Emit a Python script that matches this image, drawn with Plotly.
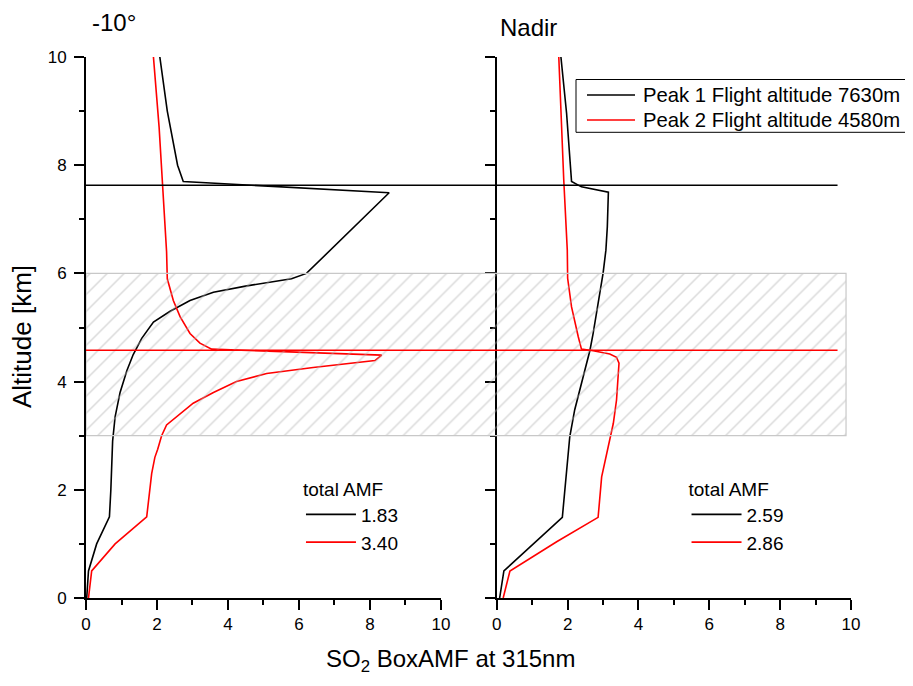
import plotly.graph_objects as go

# ---------------- data ----------------
# -10 deg viewing direction, Peak 1 (black)
alt_m10_p1 = [0.0, 0.5, 1.0, 1.5, 2.0, 2.9, 3.35, 3.8, 4.2, 4.5, 4.8, 5.1, 5.3, 5.5,
              5.65, 5.77, 5.9, 6.0, 7.49, 7.7, 8.0, 9.0, 10.0]
amf_m10_p1 = [0.02, 0.07, 0.30, 0.66, 0.70, 0.75, 0.82, 0.96, 1.15, 1.33, 1.57, 1.90,
              2.37, 2.93, 3.59, 4.53, 5.79, 6.21, 8.54, 2.74, 2.58, 2.29, 2.08]
# -10 deg viewing direction, Peak 2 (red)
alt_m10_p2 = [0.0, 0.5, 1.0, 1.5, 2.3, 2.6, 2.75, 3.0, 3.2, 3.35, 3.6, 3.8, 4.0, 4.15,
              4.26, 4.39, 4.49, 4.60, 4.71, 4.89, 5.2, 5.5, 5.9, 6.4, 7.67, 8.7, 10.0]
amf_m10_p2 = [0.07, 0.16, 0.82, 1.71, 1.85, 1.94, 2.02, 2.13, 2.27, 2.55, 3.02, 3.59,
              4.24, 5.09, 6.40, 8.14, 8.33, 3.54, 3.21, 2.93, 2.65, 2.46, 2.29, 2.27,
              2.16, 2.06, 1.90]
# Nadir, Peak 1 (black)
alt_nad_p1 = [0.0, 0.5, 1.49, 2.3, 2.98, 3.48, 4.09, 4.58, 4.89, 5.45, 6.0, 6.43, 6.86,
              7.5, 7.6, 7.7, 8.96, 10.0]
amf_nad_p1 = [0.08, 0.20, 1.85, 1.97, 2.06, 2.20, 2.44, 2.63, 2.72, 2.86, 3.00, 3.08,
              3.12, 3.15, 2.39, 2.11, 1.97, 1.81]
# Nadir, Peak 2 (red)
alt_nad_p2 = [0.0, 0.5, 1.04, 1.49, 2.24, 2.92, 3.23, 3.66, 4.34, 4.45, 4.51, 4.57, 4.60,
              4.83, 5.38, 5.91, 6.43, 7.73, 10.0]
amf_nad_p2 = [0.18, 0.37, 1.69, 2.86, 2.96, 3.19, 3.29, 3.38, 3.45, 3.38, 3.19, 2.72,
              2.39, 2.30, 2.11, 2.00, 1.99, 1.89, 1.75]

flight_alt = [7.63, 4.58]
flight_names = ["Peak 1 Flight altitude 7630m", "Peak 2 Flight altitude 4580m"]
total_amf_m10 = ["1.83", "3.40"]
total_amf_nadir = ["2.59", "2.86"]
plume_layer = [3.0, 6.0]          # hatched altitude band (km)
plume_right_end = 9.86            # on the Nadir BoxAMF scale
flight_line_right_end = 9.62      # on the Nadir BoxAMF scale

colors = ["#000000", "#ff0000"]
FONT = "Liberation Sans, Arial, sans-serif"

# ---------------- layout geometry ----------------
dom_left = [0.0, 0.464]
dom_right = [0.537, 1.0]
x3_start = -10.0 * dom_right[0] / (dom_right[1] - dom_right[0])
PLOT_W, PLOT_H = 765, 541          # plot-area size in px (for paper fractions)


def px_x(dx):      # horizontal px offset from plot-area left -> paper fraction
    return dx / PLOT_W


def px_y(dy):      # vertical px offset below plot-area top -> paper fraction
    return 1 - dy / PLOT_H


fig = go.Figure()

# hatched band spanning both panels (overlay axis x3 on the right-panel scale)
fig.add_trace(go.Scatter(
    x=[x3_start, plume_right_end, plume_right_end, x3_start, x3_start],
    y=[plume_layer[0], plume_layer[0], plume_layer[1], plume_layer[1], plume_layer[0]],
    xaxis="x3", yaxis="y", mode="lines", fill="toself",
    fillcolor="rgba(0,0,0,0)",
    fillpattern=dict(shape="/", fgcolor="#b4b4b4", size=12, solidity=0.12),
    line=dict(color="#c8c8c8", width=1.2), showlegend=False, hoverinfo="skip"))

# flight altitude lines
for alt, name, c in zip(flight_alt, flight_names, colors):
    fig.add_trace(go.Scatter(
        x=[x3_start, flight_line_right_end], y=[alt, alt], xaxis="x3", yaxis="y",
        mode="lines", line=dict(color=c, width=1.6), name=name, showlegend=False))

# -10 deg panel
for x, y, c, n in [(amf_m10_p1, alt_m10_p1, colors[0], total_amf_m10[0]),
                   (amf_m10_p2, alt_m10_p2, colors[1], total_amf_m10[1])]:
    fig.add_trace(go.Scatter(x=x, y=y, xaxis="x", yaxis="y", mode="lines",
                             line=dict(color=c, width=1.6), name=n, legend="legend2"))
# Nadir panel
for x, y, c, n in [(amf_nad_p1, alt_nad_p1, colors[0], total_amf_nadir[0]),
                   (amf_nad_p2, alt_nad_p2, colors[1], total_amf_nadir[1])]:
    fig.add_trace(go.Scatter(x=x, y=y, xaxis="x2", yaxis="y2", mode="lines",
                             line=dict(color=c, width=1.6), name=n, legend="legend3"))

axis_common = dict(range=[0, 10], dtick=2, tick0=0, ticks="outside", ticklen=10,
                   tickwidth=1.5, tickcolor="black", showline=True, linecolor="black",
                   linewidth=1.8, showgrid=False, zeroline=False,
                   tickfont=dict(size=17, color="black", family=FONT),
                   minor=dict(dtick=1, ticklen=5, tickwidth=1.5, tickcolor="black",
                              ticks="outside", showgrid=False))

# ---- main legend (flight altitudes), drawn as a boxed key ----
shapes = [dict(type="rect", xref="paper", yref="paper",
               x0=px_x(490), x1=px_x(840), y0=px_y(75.3), y1=px_y(22.5),
               line=dict(color="black", width=1), fillcolor="white", layer="above")]
annotations = []
for i, (name, c) in enumerate(zip(flight_names, colors)):
    yrow = px_y(38 + 25 * i)
    shapes.append(dict(type="line", xref="paper", yref="paper",
                       x0=px_x(501), x1=px_x(549), y0=yrow, y1=yrow,
                       line=dict(color=c, width=1.6), layer="above"))
    annotations.append(dict(text=name, xref="paper", yref="paper", x=px_x(555),
                            y=yrow, xanchor="left", yanchor="middle",
                            showarrow=False, font=dict(size=20.3)))

annotations += [
    dict(text="-10°", xref="paper", yref="paper", x=px_x(4), y=px_y(-35),
         xanchor="left", yanchor="middle", showarrow=False, font=dict(size=24)),
    dict(text="Nadir", xref="paper", yref="paper", x=px_x(412), y=px_y(-29),
         xanchor="left", yanchor="middle", showarrow=False, font=dict(size=24)),
    dict(text="SO<sub>2</sub> BoxAMF at 315nm", xref="paper", yref="paper",
         x=px_x(364), y=px_y(62 + PLOT_H), xanchor="center", yanchor="middle",
         showarrow=False, font=dict(size=24)),
    dict(text="Altitude [km]", xref="paper", yref="paper", x=px_x(-64),
         y=px_y(280), xanchor="center", yanchor="middle", textangle=-90,
         showarrow=False, font=dict(size=26)),
]

# the page body has an 8px margin: the figure is sized/offset to compensate
fig.update_layout(
    width=905, height=678,
    margin=dict(l=78, r=62, t=49, b=88, autoexpand=False),
    paper_bgcolor="white", plot_bgcolor="rgba(0,0,0,0)",
    font=dict(family=FONT, color="black"),
    xaxis=dict(domain=dom_left, anchor="y", **axis_common),
    yaxis=dict(domain=[0, 1], anchor="x", ticklabelstandoff=4, **axis_common),
    xaxis2=dict(domain=dom_right, anchor="y2", **axis_common),
    yaxis2=dict(domain=[0, 1], anchor="x2", showticklabels=False, **axis_common),
    xaxis3=dict(domain=[0, 1], anchor="y", range=[x3_start, 10], visible=False,
                showgrid=False, zeroline=False),
    legend2=dict(x=0.281, y=0.235, xanchor="left", yanchor="top",
                 bgcolor="rgba(0,0,0,0)", borderwidth=0, font=dict(size=19),
                 title=dict(text="total AMF", font=dict(size=19)), itemwidth=50),
    legend3=dict(x=0.785, y=0.235, xanchor="left", yanchor="top",
                 bgcolor="rgba(0,0,0,0)", borderwidth=0, font=dict(size=19),
                 title=dict(text="total AMF", font=dict(size=19)), itemwidth=50),
    shapes=shapes,
    annotations=annotations,
)

fig.write_html("out.html")
